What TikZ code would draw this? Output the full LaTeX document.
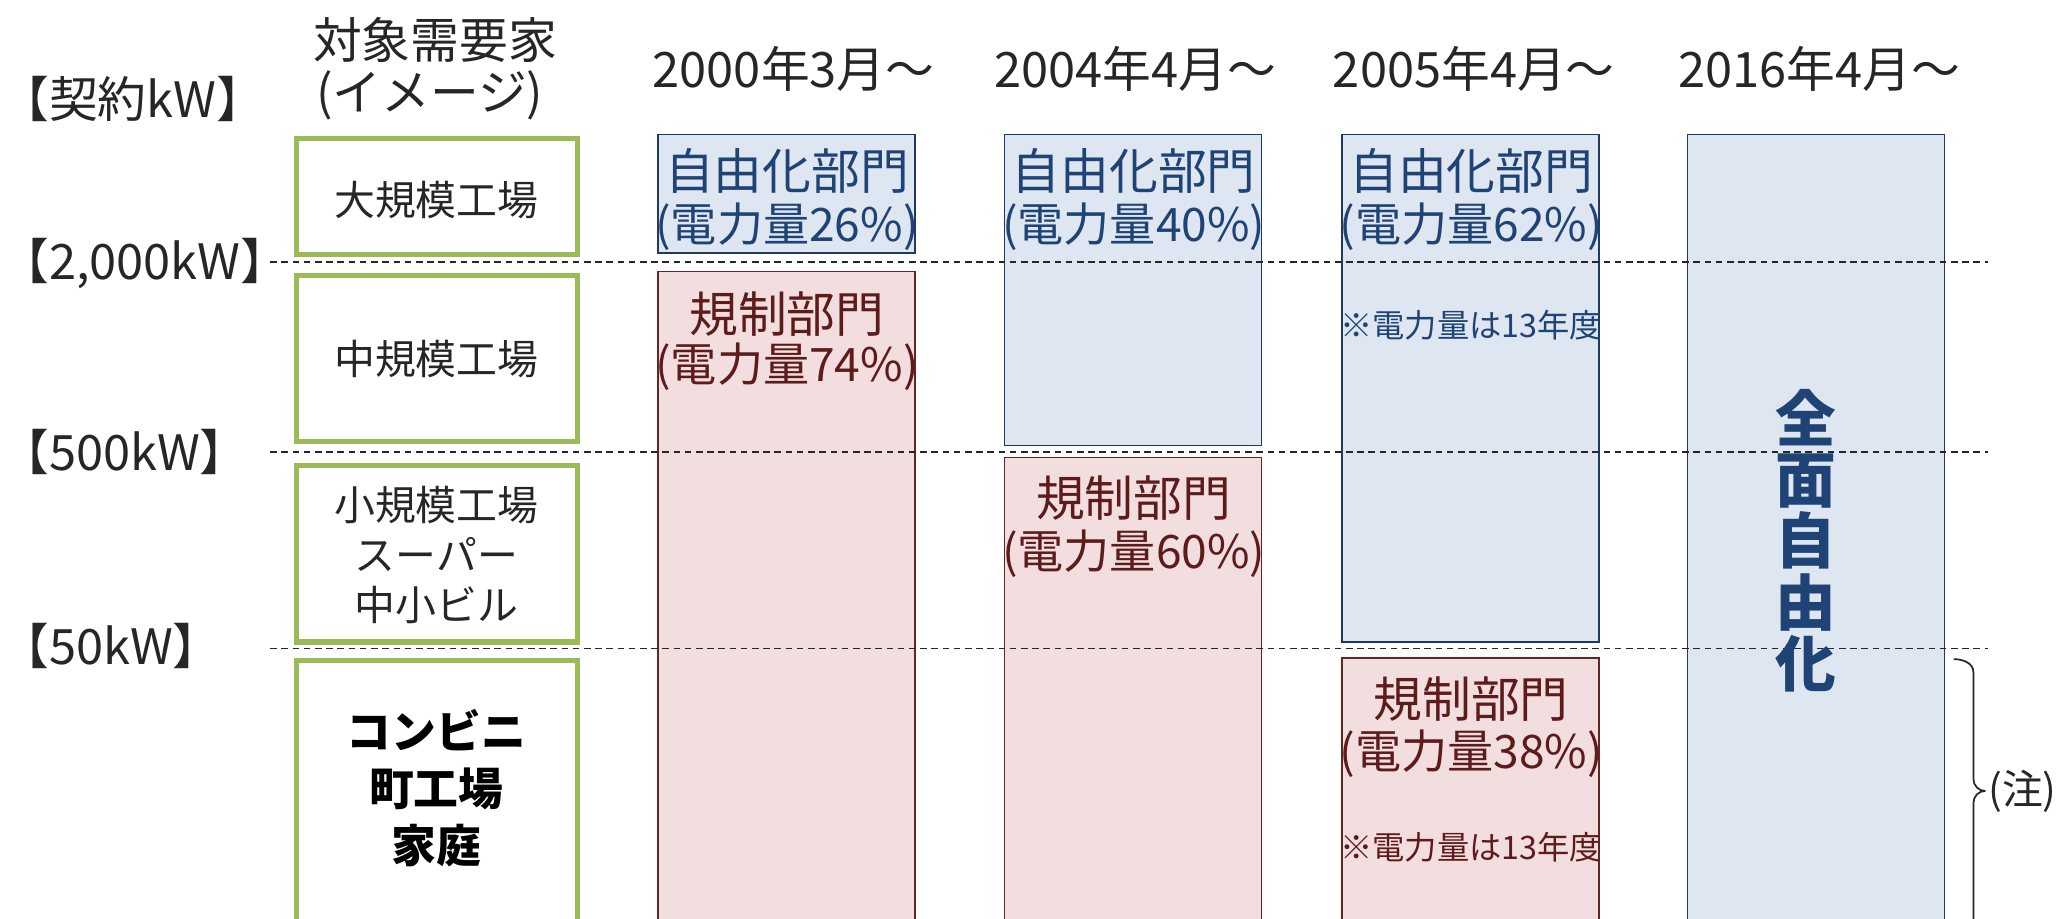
\documentclass[tikz,border=0pt]{standalone}
\usepackage{fontspec}
\setmainfont{Noto Sans CJK JP}
\definecolor{grn}{HTML}{9BBB59}
\definecolor{bfill}{HTML}{DEE6F1}
\definecolor{bline}{HTML}{1F3864}
\definecolor{btext}{HTML}{1F4374}
\definecolor{rfill}{HTML}{F2DEDE}
\definecolor{rline}{HTML}{632523}
\definecolor{rtext}{HTML}{5E1B1B}
\definecolor{gtext}{HTML}{262626}
\tikzset{
  hdr/.style={font=\fontsize{37}{42}\selectfont, text=gtext, inner sep=0pt},
  kwlab/.style={font=\fontsize{37}{42}\selectfont, text=gtext, inner sep=0pt, anchor=west},
  gbox/.style={draw=grn, line width=4pt},
  gtxt/.style={font=\fontsize{31}{38}\selectfont, text=gtext, inner sep=0pt, align=center},
  gbold/.style={font=\fontsize{34}{43.5}\selectfont\bfseries, text=black, inner sep=0pt, align=center},
  bbox/.style={draw=bline, fill=bfill, line width=1.3pt},
  rbox/.style={draw=rline, fill=rfill, line width=1.3pt},
  btxt/.style={font=\fontsize{37}{42}\selectfont, text=btext, inner sep=0pt},
  rtxt/.style={font=\fontsize{37}{42}\selectfont, text=rtext, inner sep=0pt},
  btxs/.style={font=\fontsize{35}{40}\selectfont, text=btext, inner sep=0pt},
  rtxs/.style={font=\fontsize{35}{40}\selectfont, text=rtext, inner sep=0pt},
  bnote/.style={font=\fontsize{24.5}{28}\selectfont, text=btext, inner sep=0pt},
  rnote/.style={font=\fontsize{24.5}{28}\selectfont, text=rtext, inner sep=0pt},
  dline/.style={draw=black!85, line width=1.3pt, dash pattern=on 5pt off 3.5pt},
}
\begin{document}
\begin{tikzpicture}[x=1pt,y=-1pt]
\useasboundingbox (0,0) rectangle (1568,697);
\clip (0,0) rectangle (1568,697);

% header
\node[hdr] (tgt1) at (330,30) {対象需要家};
\node[hdr] (tgt2) at (326,72) {(イメージ)};
\node[kwlab] (kw0) at (0,75) {【契約kW】};
\node[hdr] (y1) at (602,52) {2000年3月～};
\node[hdr] (y2) at (861,52) {2004年4月～};
\node[hdr] (y3) at (1118,52) {2005年4月～};
\node[hdr] (y4) at (1380,52) {2016年4月～};

% green boxes
\draw[gbox] (225,105) rectangle (438,193);
\node[gtxt] (g1) at (331,152) {大規模工場};
\draw[gbox] (225,209) rectangle (438,335);
\node[gtxt] (g2) at (331,272) {中規模工場};
\draw[gbox] (225,353) rectangle (438,487);
\node[gtxt] (g3) at (331,421) {小規模工場\\スーパー\\中小ビル};
\draw[gbox] (225,501) rectangle (438,720);
\node[gbold] (g4) at (331,598) {コンビニ\\町工場\\家庭};

% column 1
\draw[bbox] (499,102) rectangle (694,192);
\node[btxt] (c1a) at (597,130) {自由化部門};
\node[btxs] (c1b) at (597,172) {(電力量26\%)};
\draw[rbox] (499,206) rectangle (694,720);
\node[rtxt] (c1c) at (597,238) {規制部門};
\node[rtxs] (c1d) at (597,278) {(電力量74\%)};

% column 2
\draw[bbox] (762,102) rectangle (957,338);
\node[btxt] (c2a) at (860,130) {自由化部門};
\node[btxs] (c2b) at (860,172) {(電力量40\%)};
\draw[rbox] (762,347) rectangle (957,720);
\node[rtxt] (c2c) at (860,378) {規制部門};
\node[rtxs] (c2d) at (860,420) {(電力量60\%)};

% column 3
\draw[bbox] (1018,102) rectangle (1213,487);
\node[btxt] (c3a) at (1116,130) {自由化部門};
\node[btxs] (c3b) at (1116,172) {(電力量62\%)};
\node[bnote] (c3n) at (1116,247) {※電力量は13年度};
\draw[rbox] (1018,499) rectangle (1213,720);
\node[rtxt] (c3c) at (1116,530) {規制部門};
\node[rtxs] (c3d) at (1116,572) {(電力量38\%)};
\node[rnote] (c3m) at (1116,643) {※電力量は13年度};

% column 4
\draw[bbox] (1280,102) rectangle (1475,720);

% dashed lines
\coordinate (d1a) at (205,199); \coordinate (d1b) at (1508,199);
\coordinate (d2a) at (205,343); \coordinate (d2b) at (1508,343);
\coordinate (d3a) at (205,492); \coordinate (d3b) at (1508,492);
\draw[dline] (d1a) -- (d1b);
\draw[dline] (d2a) -- (d2b);
\draw[dline] (d3a) -- (d3b);

\node[font=\fontsize{46}{46.5}\selectfont\bfseries, text=btext, inner sep=0pt, align=center] (zen) at (1370,410) {全\\面\\自\\由\\化};

% left labels
\node[kwlab] (kw1) at (0,200) {【2,000kW】};
\node[kwlab] (kw2) at (0,343) {【500kW】};
\node[kwlab] (kw3) at (0,490) {【50kW】};

% brace
\coordinate (br0) at (1482,500);
\coordinate (brt) at (1506,600);
\draw[line width=1.3pt, draw=gtext] (br0) to[out=0,in=90] (1497,510) -- (1497,591) to[out=-90,in=180] (brt);
\draw[line width=1.3pt, draw=gtext] (brt) to[out=180,in=90] (1497,609) -- (1497,720);
\node[font=\fontsize{31}{34}\selectfont, text=gtext, inner sep=0pt, anchor=west] (chu) at (1508,600) {(注)};
\end{tikzpicture}
\end{document}
